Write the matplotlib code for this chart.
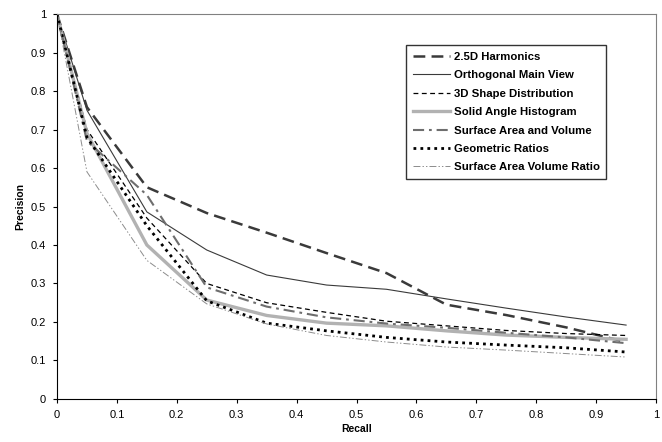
import matplotlib
matplotlib.use("Agg")
import matplotlib.pyplot as plt

plt.rcParams['font.family'] = ['Liberation Sans', 'DejaVu Sans']
plt.rcParams['lines.scale_dashes'] = False

recall = [0, 0.05, 0.15, 0.25, 0.35, 0.45, 0.55, 0.65, 0.75, 0.85, 0.95]

harmonics_25d = [1.0, 0.758, 0.55, 0.483, 0.432, 0.379, 0.327, 0.245, 0.218, 0.186, 0.148]
ortho_main_view = [1.0, 0.75, 0.486, 0.387, 0.322, 0.296, 0.285, 0.26, 0.236, 0.213, 0.192]
shape_dist_3d = [1.0, 0.70, 0.47, 0.30, 0.25, 0.225, 0.202, 0.19, 0.178, 0.17, 0.165]
solid_angle_hist = [1.0, 0.69, 0.40, 0.257, 0.217, 0.197, 0.19, 0.177, 0.166, 0.16, 0.155]
area_volume = [1.0, 0.67, 0.53, 0.29, 0.24, 0.212, 0.196, 0.185, 0.172, 0.16, 0.145]
geometric_ratios = [1.0, 0.68, 0.45, 0.255, 0.197, 0.177, 0.16, 0.148, 0.14, 0.133, 0.122]
area_volume_ratio = [1.0, 0.59, 0.36, 0.247, 0.195, 0.165, 0.148, 0.135, 0.127, 0.118, 0.109]

fig = plt.figure(figsize=(6.62, 4.42), dpi=100)
axes = fig.add_axes([0.0861, 0.0973, 0.9049, 0.871])

axes.plot(recall, harmonics_25d, label="2.5D Harmonics", color="#3a3a3a", lw=1.8, dashes=(8.5, 4.5))
axes.plot(recall, ortho_main_view, label="Orthogonal Main View", color="#3a3a3a", lw=0.8)
axes.plot(recall, shape_dist_3d, label="3D Shape Distribution", color="black", lw=0.9, dashes=(3.5, 2.5))
axes.plot(recall, solid_angle_hist, label="Solid Angle Histogram", color="#b2b2b2", lw=2.4)
axes.plot(recall, area_volume, label="Surface Area and Volume", color="#6e6e6e", lw=1.5, dashes=(8, 3.5, 2, 3.5))
axes.plot(recall, geometric_ratios, label="Geometric Ratios", color="black", lw=2.0, dashes=(2, 3))
axes.plot(recall, area_volume_ratio, label="Surface Area Volume Ratio", color="#8c8c8c", lw=0.7, dashes=(5, 1.5, 1, 1.5, 1, 1.5))

axes.set_xlim(0, 1)
axes.set_ylim(0, 1)
axes.set_xticks([i / 10 for i in range(11)])
axes.set_yticks([i / 10 for i in range(11)])
axes.set_xticklabels(["0", "0.1", "0.2", "0.3", "0.4", "0.5", "0.6", "0.7", "0.8", "0.9", "1"])
axes.set_yticklabels(["0", "0.1", "0.2", "0.3", "0.4", "0.5", "0.6", "0.7", "0.8", "0.9", "1"])
axes.tick_params(labelsize=8, length=3, width=0.8, direction='out', color='black', pad=5)

axes.spines['left'].set_color('black')
axes.spines['bottom'].set_color('black')
axes.spines['top'].set_color('#808080')
axes.spines['right'].set_color('#808080')

axes.set_xlabel('Recall', fontsize=7.5, fontweight='bold', labelpad=3)
axes.set_ylabel('Precision', fontsize=7.5, fontweight='bold', labelpad=4)

leg = axes.legend(loc='upper left', bbox_to_anchor=(0.613, 0.898), bbox_transform=fig.transFigure,
                  prop={'weight': 'bold', 'size': 8.2}, frameon=True, fancybox=False,
                  edgecolor='black', handlelength=3.3, handletextpad=0.3, labelspacing=0.74,
                  borderpad=0.6, borderaxespad=0)
leg.get_frame().set_linewidth(1.0)

plt.savefig('out.png', dpi=100)
plt.close()
